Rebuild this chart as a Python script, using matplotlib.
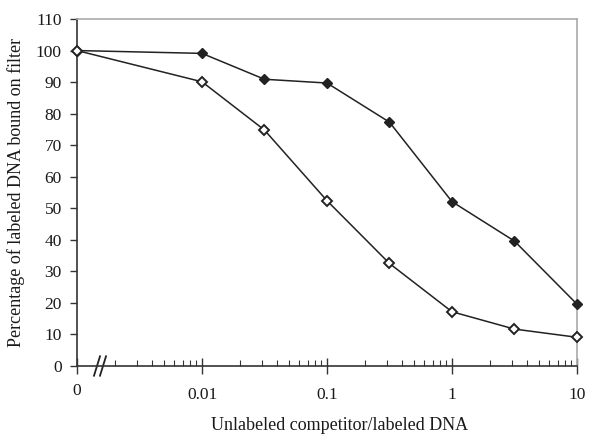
import matplotlib
matplotlib.use("Agg")
import matplotlib.pyplot as plt
from matplotlib.ticker import FixedLocator, FixedFormatter, NullFormatter
import matplotlib.transforms as mtransforms

plt.rcParams['font.family'] = ['Liberation Serif', 'DejaVu Serif']

# Data (x = 0 is drawn at the 0.001 position on the broken log axis)
x_vals = [0.001, 0.01, 0.0316, 0.1, 0.316, 1, 3.16, 10]
filled_vals = [100, 99.1, 90.9, 89.7, 77.3, 52.1, 39.6, 19.6]
open_vals = [100, 90.1, 74.8, 52.4, 32.5, 17.2, 11.7, 9.1]
xtick_vals = [0.001, 0.01, 0.1, 1, 10]
xtick_labels = ['0', '0.01', '0.1', '1', '10']
ytick_vals = list(range(0, 111, 10))
xlabel = 'Unlabeled competitor/labeled DNA'
ylabel = 'Percentage of labeled DNA bound on filter'

fig = plt.figure(figsize=(6, 4.44), dpi=100)
ax = fig.add_axes([77/600, 1 - 366/444, 500/600, 347/444])

line_col = '#222222'
ax.plot(x_vals, filled_vals, color=line_col, lw=1.1, marker='D', ms=5.5,
        mfc=line_col, mec=line_col, mew=1.0, clip_on=False, zorder=3)
ax.plot(x_vals, open_vals, color=line_col, lw=1.1, marker='D', ms=5.5,
        mfc='white', mec=line_col, mew=1.4, clip_on=False, zorder=4)

ax.set_xscale('log')
ax.set_xlim(0.001, 10)
ax.set_ylim(0, 110)

ax.xaxis.set_major_locator(FixedLocator(xtick_vals))
ax.xaxis.set_major_formatter(FixedFormatter(xtick_labels))
minors = [m * 10.0**e for e in range(-3, 1) for m in range(2, 10)]
ax.xaxis.set_minor_locator(FixedLocator(minors))
ax.xaxis.set_minor_formatter(NullFormatter())
ax.set_yticks(ytick_vals)

ax.tick_params(axis='x', which='major', direction='inout', length=12, width=1.0,
               color='#333333', labelsize=12.5, pad=9, labelcolor='#1a1a1a')
ax.tick_params(axis='x', which='minor', direction='in', length=4, width=0.8,
               color='#333333')
ax.tick_params(axis='y', which='major', direction='out', length=5, width=1.0,
               color='#333333', labelsize=12.5, pad=6, labelcolor='#1a1a1a')

for s in ['left', 'bottom']:
    ax.spines[s].set_color('#333333')
    ax.spines[s].set_linewidth(1.2)
for s in ['top', 'right']:
    ax.spines[s].set_color('#aaaaaa')
    ax.spines[s].set_linewidth(1.2)

# the "0" tick label sits a little higher than the others
offset = mtransforms.ScaledTranslation(0, 4/100, fig.dpi_scale_trans)
zero_lbl = ax.xaxis.get_major_ticks()[0].label1
zero_lbl.set_transform(zero_lbl.get_transform() + offset)

ax.set_xlabel(xlabel, fontsize=13, color='#1a1a1a')
ax.set_ylabel(ylabel, fontsize=13, color='#1a1a1a')
ax.xaxis.set_label_coords(0.525, -0.147)
ax.yaxis.set_label_coords(-0.104, 0.5)

# axis break marks "//"
tr = ax.transAxes
for dx in [0.0, 0.012]:
    ax.plot([0.034 + dx, 0.046 + dx], [-0.028, 0.028], transform=tr,
            color='#222222', lw=1.3, clip_on=False)

fig.savefig('out.png', dpi=100)
